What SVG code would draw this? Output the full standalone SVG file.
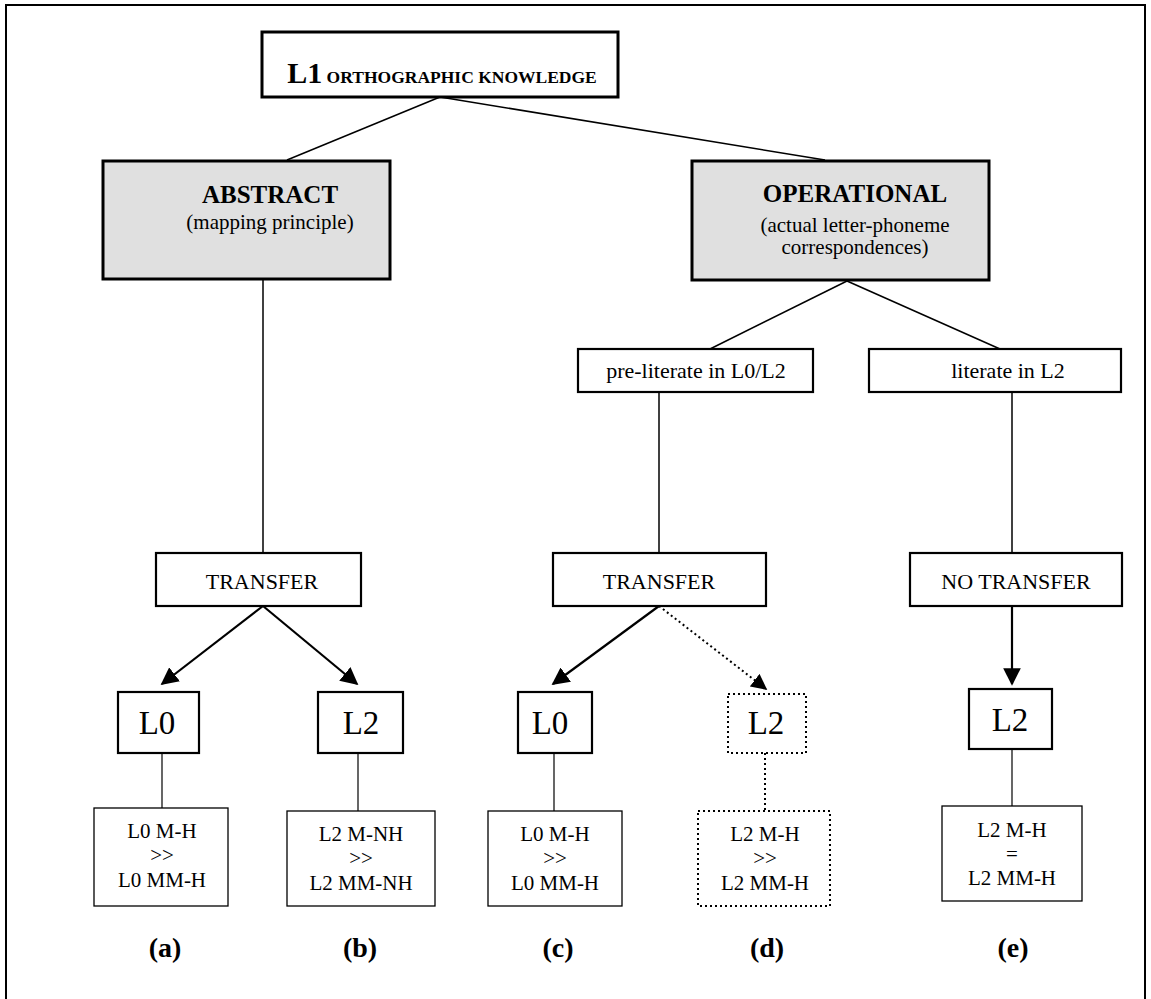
<svg xmlns="http://www.w3.org/2000/svg" width="1151" height="999" viewBox="0 0 1151 999">
<style>
text{font-family:"Liberation Serif","Times New Roman",serif;fill:#000;text-anchor:middle}
.box{fill:#fff;stroke:#000;stroke-width:2.2}
.grey{fill:#e0e0e0;stroke:#000;stroke-width:3}
.thin{fill:#fff;stroke:#000;stroke-width:1.3}
.dot{fill:#fff;stroke:#000;stroke-width:2;stroke-dasharray:2 3}
.ln{stroke:#000;stroke-width:1.5;fill:none}
.arr{stroke:#000;stroke-width:2.2;fill:none;marker-end:url(#ah)}
.darr{stroke:#000;stroke-width:2;fill:none;stroke-dasharray:2 3;marker-end:url(#ah)}
.dln{stroke:#000;stroke-width:2;fill:none;stroke-dasharray:2 3}
.b{font-weight:bold}
.t21{font-size:22px}
.lab{font-size:28px;font-weight:bold}
.big{font-size:33px}
.sm{font-size:21px}
</style>
<defs>
<marker id="ah" viewBox="0 0 10 10" refX="9" refY="5" markerWidth="8" markerHeight="8" markerUnits="strokeWidth" orient="auto">
<path d="M0,0 L10,5 L0,10 Z" fill="#000"/>
</marker>
</defs>
<rect x="6" y="5" width="1139" height="1010" fill="none" stroke="#000" stroke-width="2"/>
<g id="connectors">
<line class="ln" x1="440" y1="97" x2="287" y2="160"/>
<line class="ln" x1="440" y1="97" x2="825" y2="160"/>
<line class="ln" x1="263" y1="280" x2="263" y2="553"/>
<line class="ln" x1="847" y1="281" x2="710" y2="349"/>
<line class="ln" x1="847" y1="281" x2="1000" y2="349"/>
<line class="ln" x1="659" y1="392" x2="659" y2="553"/>
<line class="ln" x1="1012" y1="392" x2="1012" y2="553"/>
<line class="arr" x1="263" y1="606" x2="162" y2="684"/>
<line class="arr" x1="263" y1="606" x2="357" y2="684"/>
<line class="arr" x1="659" y1="606" x2="553" y2="684"/>
<line class="darr" x1="659" y1="606" x2="766" y2="689"/>
<line class="arr" x1="1012" y1="606" x2="1012" y2="684"/>
<line class="ln" x1="162" y1="753" x2="162" y2="808" style="stroke-width:1.2"/>
<line class="ln" x1="358" y1="753" x2="358" y2="811" style="stroke-width:1.2"/>
<line class="ln" x1="554" y1="753" x2="554" y2="811" style="stroke-width:1.2"/>
<line class="dln" x1="765" y1="753" x2="765" y2="811"/>
<line class="ln" x1="1012" y1="749" x2="1012" y2="806" style="stroke-width:1.2"/>
</g>
<g id="n-top">
<rect class="box" x="262" y="32" width="356" height="65" style="stroke-width:3"/>
<text x="442" y="83" class="b"><tspan style="font-size:30px">L1</tspan><tspan style="font-size:17.5px"> ORTHOGRAPHIC KNOWLEDGE</tspan></text>
</g>
<g id="n-abstract">
<rect class="grey" x="103" y="161" width="287" height="118"/>
<text x="270" y="203" class="b" style="font-size:25px">ABSTRACT</text>
<text x="270" y="229" style="font-size:21px">(mapping principle)</text>
</g>
<g id="n-operational">
<rect class="grey" x="692" y="161" width="297" height="119"/>
<text x="855" y="202" class="b" style="font-size:25px">OPERATIONAL</text>
<text x="855" y="232" style="font-size:21px">(actual letter-phoneme</text>
<text x="855" y="254" style="font-size:21px">correspondences)</text>
</g>
<g id="n-preliterate">
<rect class="box" x="578" y="349" width="235" height="43"/>
<text x="696" y="378" class="t21">pre-literate in L0/L2</text>
</g>
<g id="n-literate">
<rect class="box" x="869" y="349" width="252" height="43"/>
<text x="1008" y="378" class="t21">literate in L2</text>
</g>
<g id="n-transfer-a">
<rect class="box" x="156" y="553" width="205" height="53"/>
<text x="262" y="589" class="t21">TRANSFER</text>
</g>
<g id="n-transfer-c">
<rect class="box" x="553" y="553" width="213" height="53"/>
<text x="659" y="589" class="t21">TRANSFER</text>
</g>
<g id="n-notransfer">
<rect class="box" x="910" y="553" width="212" height="53"/>
<text x="1016" y="589" class="t21">NO TRANSFER</text>
</g>
<g id="n-l0-a">
<rect class="box" x="118" y="692" width="81" height="61"/>
<text x="157" y="734" class="big">L0</text>
</g>
<g id="n-l2-b">
<rect class="box" x="318" y="692" width="85" height="61"/>
<text x="361" y="734" class="big">L2</text>
</g>
<g id="n-l0-c">
<rect class="box" x="518" y="692" width="74" height="61"/>
<text x="550" y="734" class="big">L0</text>
</g>
<g id="n-l2-d">
<rect class="dot" x="728" y="694" width="78" height="59"/>
<text x="766" y="734" class="big">L2</text>
</g>
<g id="n-l2-e">
<rect class="box" x="969" y="689" width="83" height="60"/>
<text x="1010" y="731" class="big">L2</text>
</g>
<g id="n-res-a">
<rect class="thin" x="94" y="808" width="134" height="98"/>
<text x="162" y="838" class="sm">L0 M-H</text>
<text x="162" y="862" class="sm">&gt;&gt;</text>
<text x="162" y="887" class="sm">L0 MM-H</text>
</g>
<g id="n-res-b">
<rect class="thin" x="287" y="811" width="148" height="95"/>
<text x="361" y="841" class="sm">L2 M-NH</text>
<text x="361" y="865" class="sm">&gt;&gt;</text>
<text x="361" y="890" class="sm">L2 MM-NH</text>
</g>
<g id="n-res-c">
<rect class="thin" x="488" y="811" width="134" height="95"/>
<text x="555" y="841" class="sm">L0 M-H</text>
<text x="555" y="865" class="sm">&gt;&gt;</text>
<text x="555" y="890" class="sm">L0 MM-H</text>
</g>
<g id="n-res-d">
<rect class="dot" x="698" y="811" width="132" height="95"/>
<text x="765" y="841" class="sm">L2 M-H</text>
<text x="765" y="865" class="sm">&gt;&gt;</text>
<text x="765" y="890" class="sm">L2 MM-H</text>
</g>
<g id="n-res-e">
<rect class="thin" x="942" y="806" width="140" height="95"/>
<text x="1012" y="837" class="sm">L2 M-H</text>
<text x="1012" y="861" class="sm">=</text>
<text x="1012" y="885" class="sm">L2 MM-H</text>
</g>
<g id="labels">
<text x="165" y="957" class="lab">(a)</text>
<text x="360" y="957" class="lab">(b)</text>
<text x="558" y="957" class="lab">(c)</text>
<text x="767" y="957" class="lab">(d)</text>
<text x="1013" y="957" class="lab">(e)</text>
</g>
</svg>
